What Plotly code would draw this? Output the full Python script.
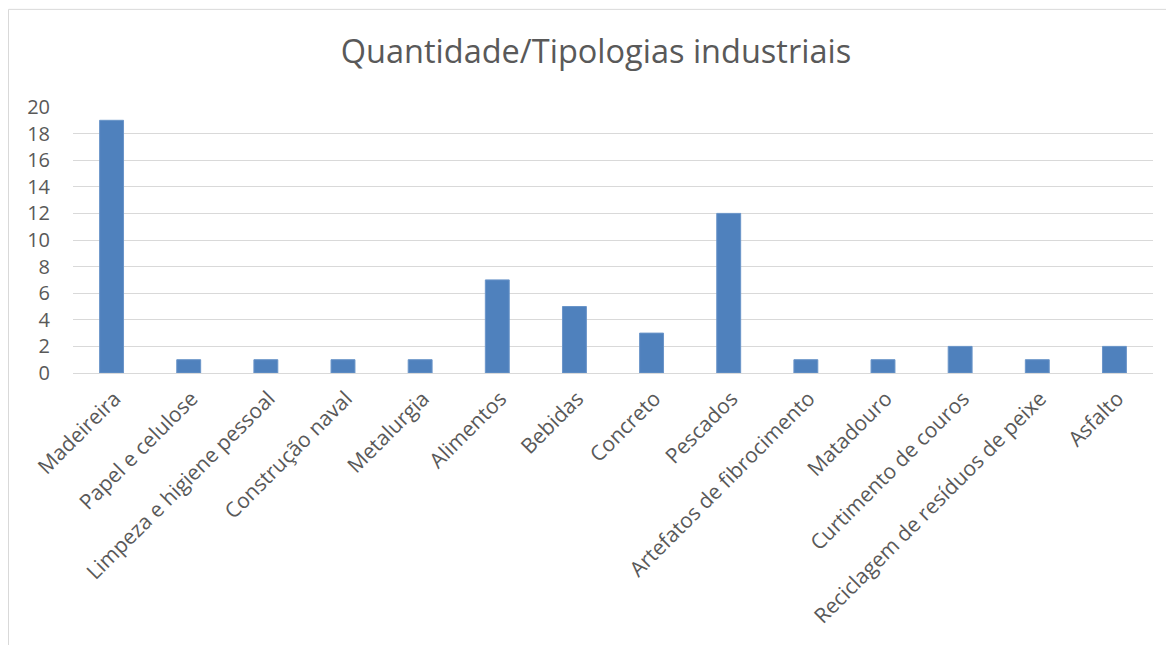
import plotly.graph_objects as go

categories = ["Madeireira", "Papel e celulose", "Limpeza e higiene pessoal", "Construção naval",
              "Metalurgia", "Alimentos", "Bebidas", "Concreto", "Pescados",
              "Artefatos de fibrocimento", "Matadouro", "Curtimento de couros",
              "Reciclagem de resíduos de peixe", "Asfalto"]
values = [19, 1, 1, 1, 1, 7, 5, 3, 12, 1, 1, 2, 1, 2]
y_ticks = [0, 2, 4, 6, 8, 10, 12, 14, 16, 18, 20]
title = "Quantidade/Tipologias industriais"

# page body has an 8px margin, so the figure is drawn at (8, 8)
W, H = 1166, 637
ml, mr, mt, mb = 65, 21, 98.5, 271.5

fig = go.Figure(go.Bar(
    x=categories, y=values,
    marker=dict(color="#4F81BD", line=dict(color="#6A95C9", width=1)),
    width=0.31,
))

pw = W - ml - mr
ph = H - mt - mb
fx0 = (0.5 - ml) / pw
fx1 = (W + 5 - ml) / pw
fy1 = (H - 0.5 - mb) / ph
fy0 = (-5 - mb) / ph

fig.update_layout(
    width=W, height=H,
    margin=dict(l=ml, r=mr, t=mt, b=mb, pad=0, autoexpand=False),
    paper_bgcolor="white", plot_bgcolor="white",
    title=dict(text=title, x=588 / W, xanchor="center", y=1 - 44 / H, yanchor="middle",
               font=dict(family="Open Sans", size=32.5, color="#595959")),
    font=dict(family="Open Sans", color="#595959"),
    showlegend=False,
    xaxis=dict(type="category", tickangle=-45, showgrid=False, showline=True,
               linecolor="#D9D9D9", linewidth=1, ticks="", automargin=False,
               tickfont=dict(family="Open Sans", size=21, color="#595959"),
               ticklabelstandoff=4, ticklabelshift=3),
    yaxis=dict(range=[0, 20], tickvals=y_ticks, showgrid=True, gridcolor="#D9D9D9",
               gridwidth=1, zeroline=False, showline=False, ticks="", automargin=False,
               tickfont=dict(family="Open Sans", size=20, color="#595959"),
               ticklabelstandoff=22),
    shapes=[dict(type="rect", xref="paper", yref="paper", x0=fx0, x1=fx1, y0=fy0, y1=fy1,
                 line=dict(color="#D9D9D9", width=1), fillcolor="rgba(0,0,0,0)", layer="below")],
)

fig.write_html("out.html")
